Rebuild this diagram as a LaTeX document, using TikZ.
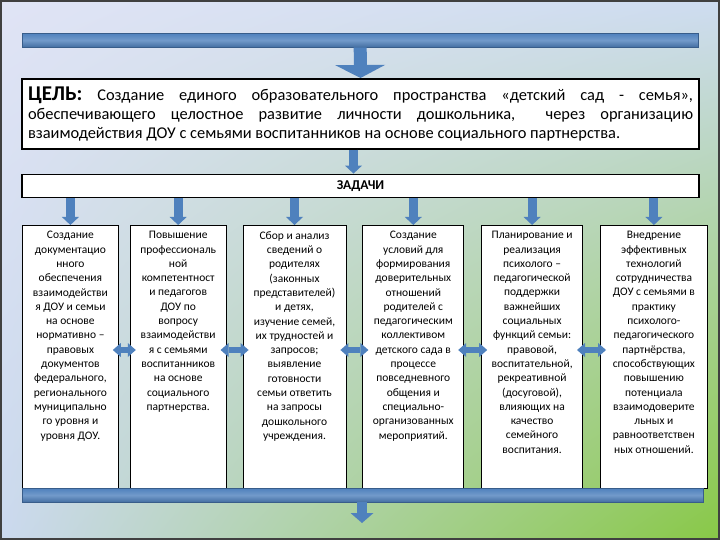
\documentclass[tikz,border=0pt]{standalone}
\usepackage{fontspec}
\setmainfont{Carlito}
\usetikzlibrary{positioning, arrows.meta, shadings}

\definecolor{barblue}{RGB}{79,129,189}
\definecolor{barline}{RGB}{56,93,138}
\definecolor{bgul}{RGB}{224,228,245}
\definecolor{bgur}{RGB}{206,220,241}
\definecolor{bgll}{RGB}{203,217,239}
\definecolor{bglr}{RGB}{136,200,70}
\newcommand{\tasktext}[2]{\parbox[t][251pt][t]{#1}{\centering\fontsize{11.5}{14.3}\selectfont #2}}

\begin{document}
\begin{tikzpicture}[x=1pt, y=-1pt,
  node distance = 24pt and 16pt,
  bar/.style = {draw=barline, top color=barblue, bottom color=barblue!85!black,
                middle color=barblue!80!white, minimum height=14pt, inner sep=0pt},
  goalbox/.style = {draw, line width=1.6pt, fill=white, text width=665pt, align=justify,
                    inner xsep=6pt, inner ysep=4pt, minimum height=70pt},
  headbox/.style = {draw, line width=1.6pt, fill=white, minimum width=677pt,
                    minimum height=23pt, font=\fontsize{13.5}{16}\selectfont\bfseries},
  task/.style = {draw, fill=white, line width=0.8pt, inner xsep=2pt, inner ysep=6pt},
  bigarr/.style = {barblue, line width=13pt, -{Triangle[length=13pt, width=50pt, line width=0pt]}},
  smallarr/.style = {barblue, line width=9pt, -{Triangle[length=8pt, width=17pt, line width=0pt]}},
  endarr/.style = {barblue, line width=10pt, -{Triangle[length=10pt, width=23pt, line width=0pt]}},
  dblarr/.style = {barblue, line width=6pt,
                   {Triangle[length=8pt, width=14pt, line width=0pt]}-{Triangle[length=8pt, width=14pt, line width=0pt]},
                   shorten <=-6pt, shorten >=-6pt},
]
  \useasboundingbox (0,0) rectangle (720,540);
  \shade[upper left=bgul, upper right=bgur, lower left=bgll, lower right=bglr] (0,0) rectangle (720,540);
  \draw[line width=4pt, black!75] (0,0) rectangle (720,540);

  \node[bar, minimum width=676pt, anchor=north west] (topbar) at (22,33) {};
  \node[goalbox, anchor=north] (goal) at (360.5,78)
    {\fontsize{16.4}{19}\selectfont{\fontsize{21}{19}\selectfont\textbf{ЦЕЛЬ:}}\ Создание единого образовательного пространства «детский сад - семья»,\linebreak
     обеспечивающего целостное развитие личности дошкольника,\ \ через организацию\linebreak
     взаимодействия ДОУ с семьями воспитанников на основе социального партнерства.\par};
  \node[headbox, below=of goal] (zad) {ЗАДАЧИ};

  \node[task, anchor=north west] (b1) at (22,225) {\tasktext{92pt}{Создание\\ документацио\\ нного\\ обеспечения\\ взаимодействи\\ я ДОУ и семьи\\ на основе\\ нормативно –\\ правовых\\ документов\\ федерального,\\ регионального\\ муниципально\\ го уровня и\\ уровня ДОУ.}};
  \node[task, right=11pt of b1] (b2) {\tasktext{92pt}{Повышение\\ профессиональ\\ ной\\ компетентност\\ и педагогов\\ ДОУ по\\ вопросу\\ взаимодействи\\ я с семьями\\ воспитанников\\ на основе\\ социального\\ партнерства.}};
  \node[task, right=of b2] (b3) {\tasktext{99pt}{Сбор и анализ\\ сведений о\\ родителях\\ (законных\\ представителей)\\ и детях,\\ изучение семей,\\ их трудностей и\\ запросов;\\ выявление\\ готовности\\ семьи ответить\\ на запросы\\ дошкольного\\ учреждения.}};
  \node[task, right=of b3] (b4) {\tasktext{97pt}{Создание\\ условий для\\ формирования\\ доверительных\\ отношений\\ родителей с\\ педагогическим\\ коллективом\\ детского сада в\\ процессе\\ повседневного\\ общения и\\ специально-\\ организованных\\ мероприятий.}};
  \node[task, right=17pt of b4] (b5) {\tasktext{97pt}{Планирование и\\ реализация\\ психолого –\\ педагогической\\ поддержки\\ важнейших\\ социальных\\ функций семьи:\\ правовой,\\ воспитательной,\\ рекреативной\\ (досуговой),\\ влияющих на\\ качество\\ семейного\\ воспитания.}};
  \node[task, right=17pt of b5] (b6) {\tasktext{103pt}{Внедрение\\ эффективных\\ технологий\\ сотрудничества\\ ДОУ с семьями в\\ практику\\ психолого-\\ педагогического\\ партнёрства,\\ способствующих\\ повышению\\ потенциала\\ взаимодоверите\\ льных и\\ равноответствен\\ ных отношений.}};

  \node[bar, minimum width=681pt, anchor=north west] (botbar) at (22,488) {};
  \coordinate (mid) at (0,350);
  \coordinate (end) at (362,523);

  \draw[bigarr] (topbar.south) -- (goal.north);
  \draw[smallarr] ([xshift=-7pt]goal.south) -- ([xshift=-7pt]zad.north);
  \foreach \b in {b1,b2,b3,b4,b5,b6}
    \draw[smallarr] (zad.south -| \b.north) -- (\b.north);
  \draw[dblarr] (b1.east |- mid) -- (b2.west |- mid);
  \draw[dblarr] (b2.east |- mid) -- (b3.west |- mid);
  \draw[dblarr] (b3.east |- mid) -- (b4.west |- mid);
  \draw[dblarr] (b4.east |- mid) -- (b5.west |- mid);
  \draw[dblarr] (b5.east |- mid) -- (b6.west |- mid);
  \draw[endarr] (botbar.south -| end) -- (end);
\end{tikzpicture}
\end{document}
